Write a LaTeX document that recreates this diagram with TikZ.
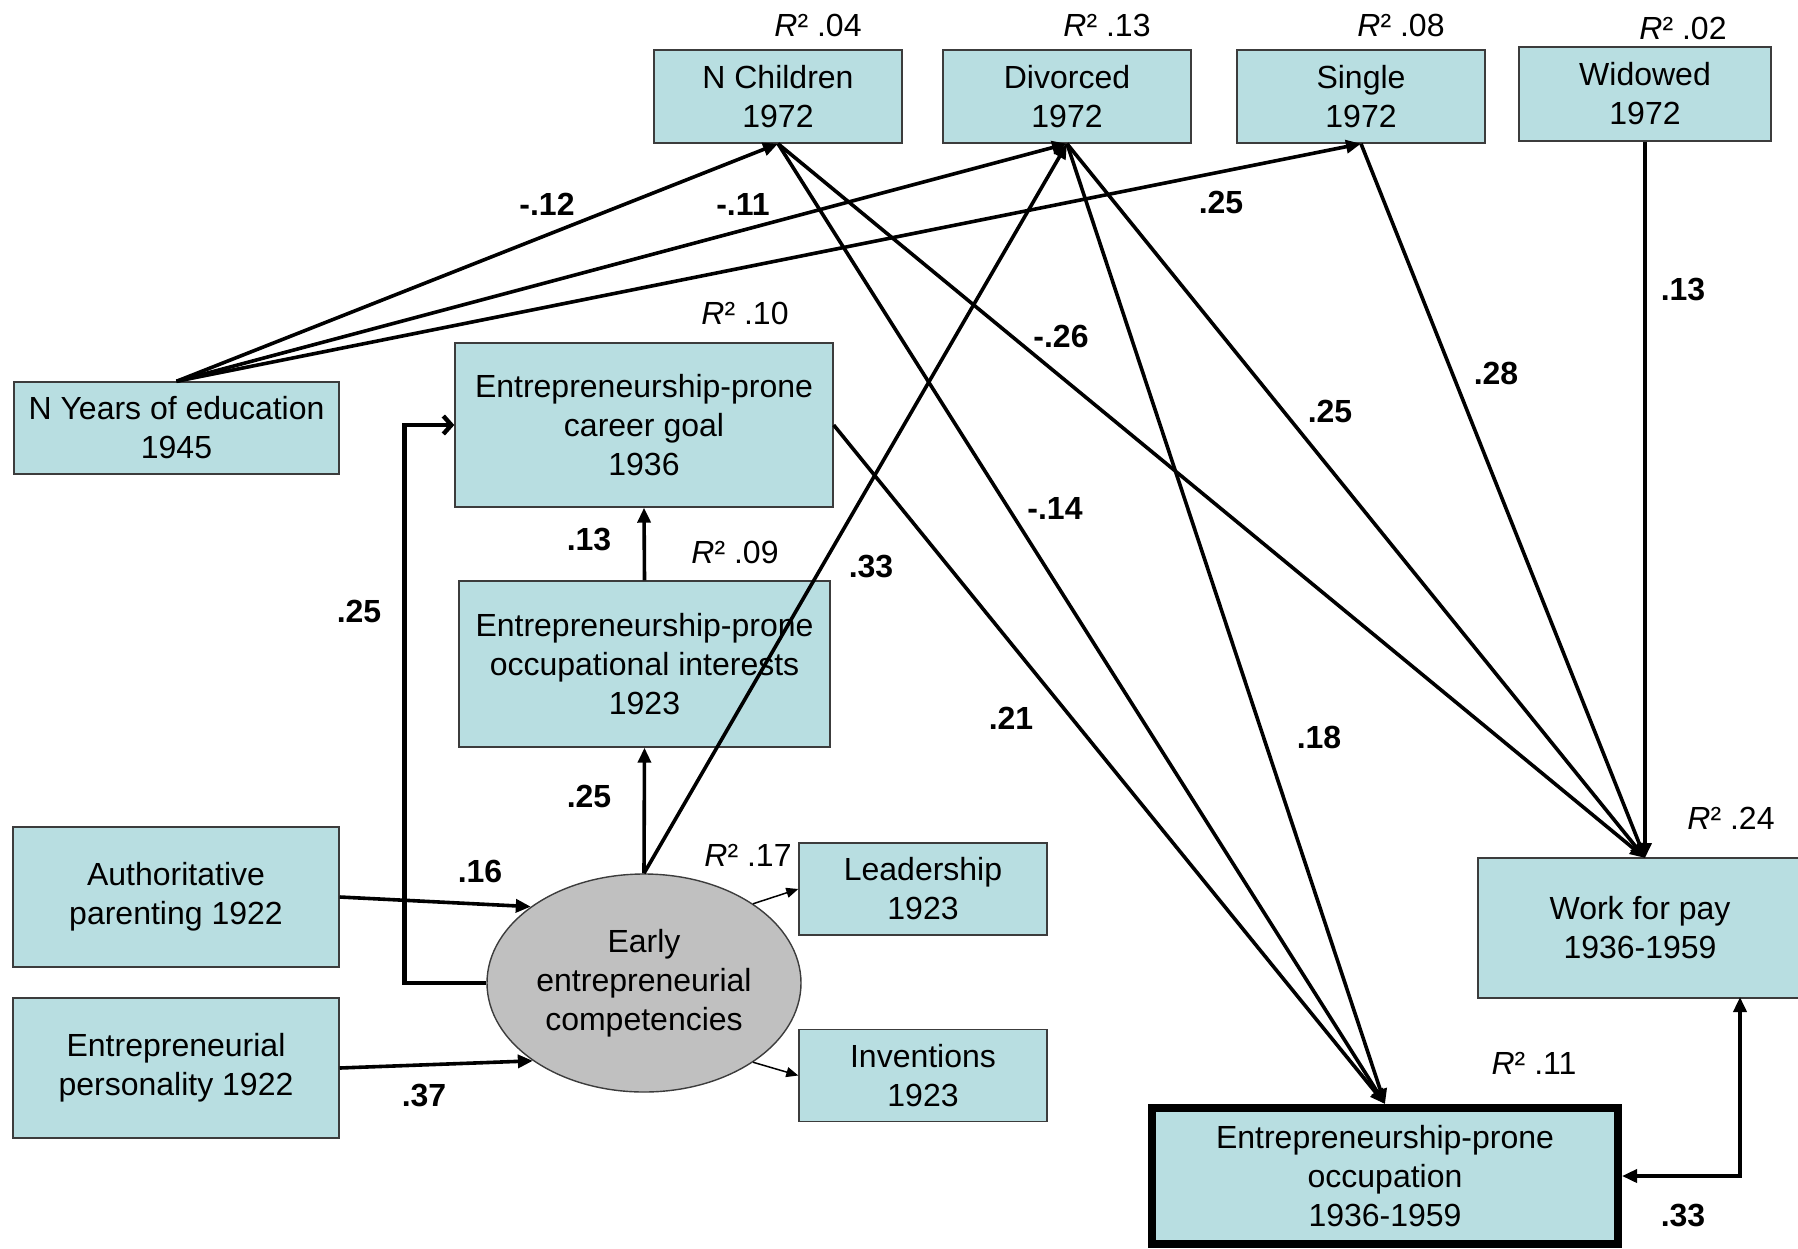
\documentclass[tikz,border=0pt]{standalone}
\usepackage{fontspec}
\setmainfont{Liberation Sans}
\usetikzlibrary{arrows.meta,shapes.geometric}
\definecolor{boxfill}{RGB}{184,222,225}
\definecolor{boxline}{RGB}{60,60,60}
\definecolor{ellfill}{RGB}{192,192,192}
\begin{document}
\begin{tikzpicture}[x=0.5pt,y=-0.5pt,
  txt/.style={font=\fontsize{16}{19.5}\selectfont, align=center},
  box/.style={txt, draw=boxline, fill=boxfill, line width=0.7pt, inner sep=0pt},
  lbl/.style={font=\fontsize{16}{19.5}\selectfont\bfseries, inner sep=1pt},
  rsq/.style={font=\fontsize{16}{19.5}\selectfont, inner sep=1pt},
  main/.style={line width=1.8pt, -{Triangle[length=7.5pt,width=6.5pt]}},
  thinarr/.style={line width=0.75pt, -{Triangle[length=6pt,width=5pt]}},
  elbow/.style={line width=2.2pt, -{Straight Barb[length=4pt,width=9pt]}}]
\useasboundingbox (0,0) rectangle (1798,1248);

% boxes
\node[box, minimum width=124pt, minimum height=46.5pt] (nchild) at (778,96.5) {N Children\\1972};
\node[box, minimum width=124pt, minimum height=46.5pt] (divorced) at (1067,96.5) {Divorced\\1972};
\node[box, minimum width=124pt, minimum height=46.5pt] (single) at (1361,96.5) {Single\\1972};
\node[box, minimum width=126pt, minimum height=47pt] (widowed) at (1645,94) {Widowed\\1972};
\node[box, minimum width=162.5pt, minimum height=46pt] (educ) at (176.5,428) {N Years of education\\1945};
\node[box, minimum width=189pt, minimum height=82pt] (goal) at (644,425) {Entrepreneurship-prone\\career goal\\1936};
\node[box, minimum width=185.5pt, minimum height=83pt] (interests) at (644.5,664) {Entrepreneurship-prone\\occupational interests\\1923};
\node[box, minimum width=163pt, minimum height=70pt] (auth) at (176,897) {Authoritative\\parenting 1922};
\node[box, minimum width=163pt, minimum height=70pt] (pers) at (176,1068) {Entrepreneurial\\personality 1922};
\node[draw=boxline, fill=ellfill, line width=0.7pt, ellipse, inner sep=0pt, minimum width=157pt, minimum height=109pt] (ell) at (644,983) {};
\node[txt] (elltxt) at (ell.center) {Early\\entrepreneurial\\competencies};
\node[box, minimum width=124pt, minimum height=46pt] (leader) at (923,889) {Leadership\\1923};
\node[box, minimum width=124pt, minimum height=46pt] (invent) at (923,1075.5) {Inventions\\1923};
\node[box, minimum width=162pt, minimum height=70pt] (work) at (1640,928) {Work for pay\\1936-1959};
\node[box, draw=black, line width=4pt, minimum width=233pt, minimum height=68pt] (occup) at (1385,1176) {Entrepreneurship-prone\\occupation\\1936-1959};

\coordinate (wtop) at (1645,858);
\coordinate (wb) at (1740,997);

% connectors
\draw[main] (educ.north) -- (nchild.south);
\draw[main] (educ.north) -- (divorced.south);
\draw[main] (educ.north) -- (single.south);
\draw[main] (nchild.south) -- (wtop);
\draw[main] (nchild.south) -- (occup.north);
\draw[main] (divorced.south) -- (occup.north);
\draw[main] (divorced.south) -- (wtop);
\draw[main] (ell.north) -- (divorced.south);
\draw[main] (single.south) -- (wtop);
\draw[main] (widowed.south) -- (wtop);
\draw[main] (goal.east) -- (occup.north);
\draw[main] (interests.north) -- (goal.south);
\draw[main] (ell.north) -- (interests.south);
\draw[elbow] (ell.west) -- ++(-82,0) |- (goal.west);
\draw[main] (auth.east) -- (ell.146);
\draw[main] (pers.east) -- (ell.215);
\draw[thinarr] (ell.36) -- (leader.west);
\draw[thinarr] (ell.324) -- (invent.west);
\draw[main, {Triangle[length=7.5pt,width=6.5pt]}-{Triangle[length=7.5pt,width=6.5pt]}] (occup.east) -| (wb);

% coefficient labels
\node[lbl] (c1) at (547,204) {-.12};
\node[lbl] (c2) at (743,204) {-.11};
\node[lbl] (c3) at (1221,202) {.25};
\node[lbl] (c4) at (1061,336) {-.26};
\node[lbl] (c5) at (1055,508) {-.14};
\node[lbl] (c6) at (1330,411) {.25};
\node[lbl] (c7) at (1496,373) {.28};
\node[lbl] (c8) at (1683,290) {.13};
\node[lbl] (c9) at (871,566) {.33};
\node[lbl] (c10) at (1011,718) {.21};
\node[lbl] (c11) at (1319,737) {.18};
\node[lbl] (c12) at (589,539) {.13};
\node[lbl] (c13) at (589,796) {.25};
\node[lbl] (c14) at (359,611) {.25};
\node[lbl] (c15) at (480,871) {.16};
\node[lbl] (c16) at (424,1095) {.37};
\node[lbl] (c17) at (1683,1215) {.33};

% R squared labels
\node[rsq] (r1) at (818,25) {\textit{R}² .04};
\node[rsq] (r2) at (1107,25) {\textit{R}² .13};
\node[rsq] (r3) at (1401,25) {\textit{R}² .08};
\node[rsq] (r4) at (1683,28) {\textit{R}² .02};
\node[rsq] (r5) at (745,313) {\textit{R}² .10};
\node[rsq] (r6) at (735,552) {\textit{R}² .09};
\node[rsq] (r7) at (748,855) {\textit{R}² .17};
\node[rsq] (r8) at (1731,818) {\textit{R}² .24};
\node[rsq] (r9) at (1534,1063) {\textit{R}² .11};
\end{tikzpicture}
\end{document}
